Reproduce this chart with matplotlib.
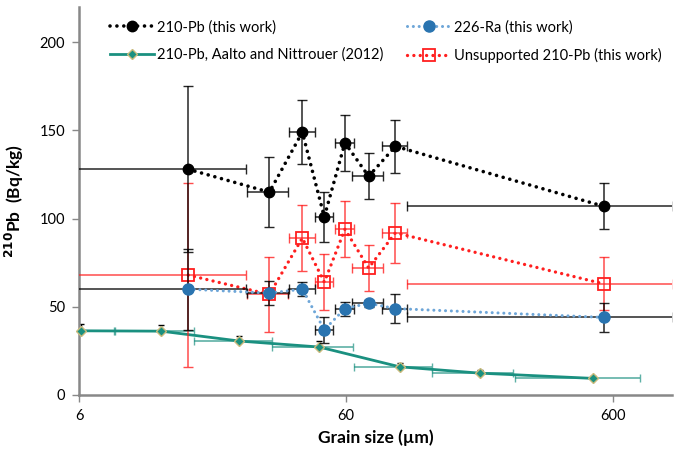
import matplotlib

matplotlib.use("Agg")
import matplotlib.pyplot as plt

plt.rcParams["font.family"] = ["Lato", "DejaVu Sans"]

# grain size (um) shared by the "this work" series
size_this = [15.4, 31, 41.2, 49.8, 59.5, 73, 92, 555]
size_err_this = [10, 5.5, 4.6, 4, 5, 9.5, 10, 453]

pb210 = [128, 115, 149, 101, 143, 124, 141, 107]
pb210_err = [47, 20, 18, 14, 16, 13, 15, 13]

ra226 = [60, 57.8, 60, 37, 49, 52, 49, 44]
ra226_err = [23, 7, 4, 7.5, 4, 2, 8, 8]

unsup = [68, 57, 89, 64, 94, 72, 92, 63]
unsup_err = [52, 21, 18.5, 16, 16, 13, 17, 15]

# Aalto and Nittrouer (2012)
size_aalto = [6.1, 12.2, 23.9, 47.7, 95.3, 190, 508]
size_err_aalto = [2, 4, 7.7, 16, 31, 64, 250]
pb_aalto = [36.4, 36.2, 30.6, 27.2, 16, 12.4, 9.4]
pb_aalto_err = [4, 3.5, 3, 3.4, 2, 1.5, 1.2]

TEAL = "#1a9080"
RED = "#ff1f1f"
BLUE = "#2a74b0"
LBLUE = "#6ea6d8"
GRAY = "#888888"

fig = plt.figure(figsize=(6.88, 4.54), dpi=100)
ax = fig.add_axes([79 / 688, 1 - 395 / 454, 593 / 688, 388 / 454])
ax.set_xscale("log")

dots = (0, (0.01, 1.9))

# --- Aalto and Nittrouer ---
ax.errorbar(size_aalto, pb_aalto, xerr=size_err_aalto, fmt="none", ecolor=TEAL,
            elinewidth=1.2, capsize=3, alpha=0.7, zorder=2)
ax.errorbar(size_aalto, pb_aalto, yerr=[[0] * 7, pb_aalto_err], fmt="none", ecolor="black",
            elinewidth=1, capsize=2.5, zorder=2)
l_aalto, = ax.plot(size_aalto, pb_aalto, "-", color=TEAL, lw=2, marker="D", ms=5.5,
                   mfc=TEAL, mec="#c9ba7c", mew=1, zorder=3,
                   label="210-Pb, Aalto and Nittrouer (2012)")
l_aalto.set_clip_on(False)

# --- unsupported 210-Pb ---
ax.errorbar(size_this, unsup, xerr=size_err_this, yerr=unsup_err, fmt="none", ecolor=RED,
            elinewidth=1.1, capsize=3.5, alpha=0.8, zorder=4)
l_unsup, = ax.plot(size_this, unsup, color=RED, lw=2.4, ls=dots, dash_capstyle="round",
                   marker="s", ms=8.5, mfc="none", mec=RED, mew=1.3, zorder=5,
                   label="Unsupported 210-Pb (this work)")

# --- 226-Ra ---
ax.errorbar(size_this, ra226, xerr=size_err_this, yerr=ra226_err, fmt="none", ecolor="black",
            elinewidth=1.1, capsize=3.5, alpha=0.85, zorder=6)
l_ra, = ax.plot(size_this, ra226, color=LBLUE, lw=2.2, ls=dots, dash_capstyle="round",
                marker="o", ms=8, mfc=BLUE, mec=BLUE, zorder=7,
                label="226-Ra (this work)")

# --- 210-Pb ---
ax.errorbar(size_this, pb210, xerr=size_err_this, yerr=pb210_err, fmt="none", ecolor="black",
            elinewidth=1.1, capsize=3.5, alpha=0.85, zorder=8)
l_pb, = ax.plot(size_this, pb210, color="black", lw=2.6, ls=dots, dash_capstyle="round",
                marker="o", ms=7.5, mfc="black", mec="black", zorder=9,
                label="210-Pb (this work)")

ax.set_xlim(6, 1000)
ax.set_ylim(0, 220)
ax.set_xticks([6, 60, 600])
ax.set_xticklabels(["6", "60", "600"])
ax.minorticks_off()
ax.set_yticks([0, 50, 100, 150, 200])

for s in ["top", "right"]:
    ax.spines[s].set_visible(False)
for s in ["left", "bottom"]:
    ax.spines[s].set_color(GRAY)
    ax.spines[s].set_linewidth(1.8)
ax.tick_params(axis="both", direction="out", length=5, width=1, color=GRAY,
               labelsize=10.5, labelcolor="black", pad=5)
ax.tick_params(axis="x", pad=5)

ax.set_xlabel("Grain size (µm)", fontsize=12.5, fontweight="bold", labelpad=5)
ax.set_ylabel(r"$^{\mathbf{210}}$Pb  (Bq/kg)", fontsize=12.5, fontweight="bold", labelpad=10)

ax.legend(handles=[l_pb, l_aalto, l_ra, l_unsup], ncol=2, loc="upper left",
          bbox_to_anchor=(0.03, 1.0), frameon=False, fontsize=10.5, handlelength=3,
          handletextpad=0.25, columnspacing=1.6, labelspacing=0.9, numpoints=1)

fig.savefig("out.png", dpi=100)
